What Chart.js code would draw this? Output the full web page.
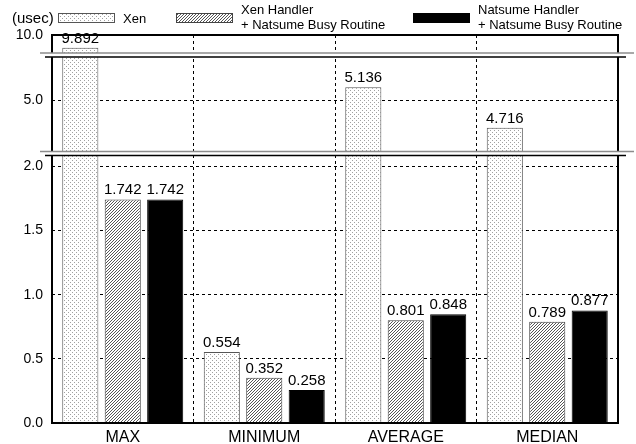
<!DOCTYPE html>
<html>
<head>
<meta charset="utf-8">
<script src="https://cdn.jsdelivr.net/npm/chart.js@4.4.0/dist/chart.umd.min.js"></script>
<style>
html, body { margin: 0; padding: 0; background: #fff; }
#wrap { width: 636px; height: 444px; }
</style>
</head>
<body>
<div id="wrap"><canvas id="chart"></canvas></div>
<script>
const categories = ['MAX', 'MINIMUM', 'AVERAGE', 'MEDIAN'];
const seriesNames = ['Xen', ['Xen Handler', '+ Natsume Busy Routine'], ['Natsume Handler', '+ Natsume Busy Routine']];
const xenValues = [9.892, 0.554, 5.136, 4.716];
const xenHandlerValues = [1.742, 0.352, 0.801, 0.789];
const natsumeValues = [1.742, 0.258, 0.848, 0.877];
// broken y axis: three pieces, each with its own range and ticks
const lowTicks = [0.0, 0.5, 1.0, 1.5, 2.0];
const midTicks = [5.0];
const topTicks = [10.0];
const unitLabel = '(usec)';

const FONT = '"Liberation Sans", Arial, sans-serif';

function makePattern(kind) {
    const c = document.createElement('canvas');
    const p = c.getContext('2d');
    if (kind === 'dots') {
        c.width = 4; c.height = 4;
        p.fillStyle = '#fff'; p.fillRect(0, 0, 4, 4);
        p.fillStyle = '#a0a0a0';
        p.fillRect(0, 0, 1, 1); p.fillRect(2, 2, 1, 1);
    } else {
        c.width = 3; c.height = 3;
        p.fillStyle = '#fff'; p.fillRect(0, 0, 3, 3);
        p.fillStyle = '#555';
        for (let i = 0; i < 3; i++) p.fillRect(i, 2 - i, 1, 1);
    }
    return p.createPattern(c, 'repeat');
}
const dots = makePattern('dots');
const hatch = makePattern('hatch');

const xenStyle = { backgroundColor: dots, borderColor: '#555', borderWidth: 1, stack: 'xen' };

function yScale(min, max, weight, tickList) {
    return {
        type: 'linear',
        position: 'left',
        stack: 'broken',
        stackWeight: weight,
        stacked: false,
        min: min,
        max: max,
        afterBuildTicks: s => { s.ticks = tickList.map(v => ({ value: v })); },
        afterFit: s => { s.width = 52; },
        grid: { color: '#000', lineWidth: 1, drawTicks: false },
        border: { display: false, dash: [3, 3] },
        ticks: {
            color: '#000',
            padding: 9,
            font: { family: FONT, size: 14 },
            callback: v => Number(v).toFixed(1)
        }
    };
}

// keep each dataset inside its own piece of the axis
const clipPlugin = {
    id: 'clipPiece',
    beforeDatasetDraw(chart, args) {
        const sc = args.meta.yScale;
        const a = chart.chartArea;
        chart.ctx.save();
        chart.ctx.beginPath();
        chart.ctx.rect(a.left, sc.top, a.right - a.left, sc.bottom - sc.top);
        chart.ctx.clip();
    },
    afterDatasetDraw(chart) {
        chart.ctx.restore();
    }
};

const framePlugin = {
    id: 'frameBreaks',
    afterDatasetsDraw(chart) {
        const { ctx, chartArea: a, scales } = chart;
        ctx.save();
        ctx.strokeStyle = '#000';
        ctx.lineWidth = 2;
        ctx.strokeRect(a.left, a.top, a.right - a.left, a.bottom - a.top);
        [scales.yTop.bottom, scales.yMid.bottom].forEach(y => {
            ctx.fillStyle = '#fff';
            ctx.fillRect(a.left - 14, y - 2, a.right - a.left + 32, 4);
            ctx.lineWidth = 1.5;
            ctx.strokeStyle = '#8c8c8c';
            ctx.beginPath(); ctx.moveTo(a.left - 12, y - 2); ctx.lineTo(a.right + 16, y - 2); ctx.stroke();
            ctx.strokeStyle = '#000';
            ctx.beginPath(); ctx.moveTo(a.left - 7, y + 2); ctx.lineTo(a.right + 8, y + 2); ctx.stroke();
        });
        ctx.restore();
    }
};

const labelPlugin = {
    id: 'labelsLegend',
    afterDraw(chart) {
        const ctx = chart.ctx;
        ctx.save();
        ctx.fillStyle = '#000';
        ctx.font = '15px ' + FONT;
        ctx.textAlign = 'center';
        ctx.textBaseline = 'alphabetic';
        chart.data.datasets.forEach((ds, i) => {
            const meta = chart.getDatasetMeta(i);
            const sc = chart.scales[ds.yAxisID];
            meta.data.forEach((bar, j) => {
                const v = ds.data[j];
                if (v >= sc.min && v <= sc.max) ctx.fillText(v.toFixed(3), bar.x, bar.y - 5);
            });
        });

        // legend
        ctx.textAlign = 'left';
        ctx.textBaseline = 'middle';
        ctx.font = '15px ' + FONT;
        ctx.fillText(unitLabel, 12, 19);
        const boxX = [58, 176, 413];
        ctx.font = '13px ' + FONT;
        chart.data.datasets.slice(0, 3).forEach((ds, i) => {
            ctx.fillStyle = ds.backgroundColor;
            ctx.fillRect(boxX[i], 13, 57, 10);
            ctx.lineWidth = 1;
            ctx.strokeStyle = ds.borderColor;
            ctx.strokeRect(boxX[i] + 0.5, 13.5, 56, 9);
            ctx.fillStyle = '#000';
            const name = seriesNames[i];
            if (Array.isArray(name)) {
                ctx.fillText(name[0], boxX[i] + 65, 10);
                ctx.fillText(name[1], boxX[i] + 65, 25);
            } else {
                ctx.fillText(name, boxX[i] + 65, 19);
            }
        });
        ctx.restore();
    }
};

new Chart(document.getElementById('chart'), {
    type: 'bar',
    data: {
        labels: categories,
        datasets: [
            Object.assign({ label: 'Xen', data: xenValues, yAxisID: 'yLow' }, xenStyle),
            { label: seriesNames[1].join(' '), data: xenHandlerValues, yAxisID: 'yLow', stack: 'xh',
              backgroundColor: hatch, borderColor: '#444', borderWidth: 1 },
            { label: seriesNames[2].join(' '), data: natsumeValues, yAxisID: 'yLow', stack: 'nh',
              backgroundColor: '#000', borderColor: '#000', borderWidth: 1 },
            Object.assign({ label: 'Xen (mid)', data: xenValues, yAxisID: 'yMid' }, xenStyle),
            Object.assign({ label: 'Xen (top)', data: xenValues, yAxisID: 'yTop' }, xenStyle)
        ]
    },
    options: {
        responsive: true,
        maintainAspectRatio: false,
        animation: false,
        devicePixelRatio: 1,
        categoryPercentage: 0.9,
        barPercentage: 0.85,
        layout: { padding: { top: 35, right: 18, left: 0, bottom: 0 } },
        plugins: { legend: { display: false }, tooltip: { enabled: false } },
        scales: {
            x: {
                stacked: true,
                offset: true,
                grid: { offset: true, color: '#000', lineWidth: 1, drawTicks: false },
                border: { display: false, dash: [3, 3] },
                ticks: { color: '#000', padding: 5, font: { family: FONT, size: 16 } },
                afterFit: s => { s.height = 21; }
            },
            yLow: yScale(0, 2.1, 269.5, lowTicks),
            yMid: yScale(4.45, 5.47, 98.5, midTicks),
            yTop: yScale(9.83, 10.0, 20, topTicks)
        }
    },
    plugins: [clipPlugin, framePlugin, labelPlugin]
});
</script>
</body>
</html>
